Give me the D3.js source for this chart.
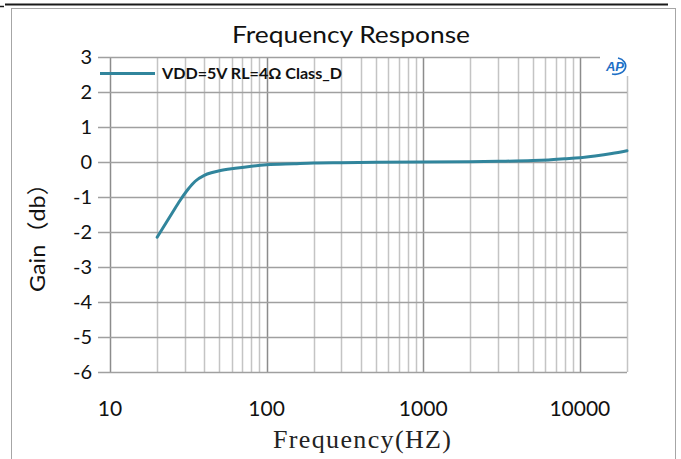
<!DOCTYPE html>
<html>
<head>
<meta charset="utf-8">
<script src="https://cdn.jsdelivr.net/npm/d3@7"></script>
<style>
    body { margin: 0; background: #fff; }
    svg { display: block; }
</style>
</head>
<body>
<div id="chart"></div>
<script>
const freqs = [20, 25, 28, 31.5, 35, 40, 45, 50, 63, 80, 100, 150, 200, 300, 500, 1000, 2000, 3000, 5000, 6300, 8000, 10000, 12500, 16000, 20000];
const gains = [-2.15, -1.45, -1.1, -0.78, -0.55, -0.38, -0.3, -0.25, -0.18, -0.12, -0.08, -0.05, -0.03, -0.02, -0.01, 0, 0.01, 0.02, 0.04, 0.06, 0.09, 0.12, 0.17, 0.24, 0.32];
const yTicks = [3, 2, 1, 0, -1, -2, -3, -4, -5, -6];
const xTickLabels = [10, 100, 1000, 10000];
const seriesName = 'VDD=5V RL=4Ω Class_D';

const width = 681;
const height = 459;
const plot = { left: 110, right: 627, top: 57, bottom: 372 };

const svg = d3.select('#chart')
    .append('svg')
    .attr('width', width)
    .attr('height', height);

const x = d3.scaleLog().domain([10, 20000]).range([plot.left, plot.right]);
const y = d3.scaleLinear().domain([-6, 3]).range([plot.bottom, plot.top]);

// frame
svg.append('rect')
    .attr('x', 11.5).attr('y', 8.5)
    .attr('width', 664).attr('height', 470)
    .attr('fill', 'none')
    .attr('stroke', '#a6a6a6');
svg.append('line')
    .attr('x1', 5).attr('x2', 668).attr('y1', 4.5).attr('y2', 4.5)
    .attr('stroke', '#1a1a1a').attr('stroke-width', 2);
svg.append('line')
    .attr('x1', 0).attr('x2', 4).attr('y1', 6.5).attr('y2', 6.5)
    .attr('stroke', '#1a1a1a').attr('stroke-width', 1.5);

// vertical grid (log minors lighter, decades darker)
const gridGroup = svg.append('g').attr('class', 'grid');
gridGroup.selectAll('line.v')
    .data(x.ticks())
    .enter()
    .append('line')
    .attr('class', 'v')
    .attr('x1', d => Math.round(x(d)) + 0.5)
    .attr('x2', d => Math.round(x(d)) + 0.5)
    .attr('y1', plot.top)
    .attr('y2', plot.bottom)
    .attr('stroke', d => Math.abs(Math.log10(d) % 1) < 1e-9 ? '#8c8c8c' : '#c4c4c4')
    .attr('stroke-width', 1.5);

// horizontal grid + left ticks
gridGroup.selectAll('line.h')
    .data(yTicks)
    .enter()
    .append('line')
    .attr('class', 'h')
    .attr('x1', plot.left - 12)
    .attr('x2', plot.right)
    .attr('y1', d => Math.round(y(d)) + 0.5)
    .attr('y2', d => Math.round(y(d)) + 0.5)
    .attr('stroke', '#a0a0a0')
    .attr('stroke-width', 1.5);

// y tick labels
svg.append('g')
    .selectAll('text')
    .data(yTicks)
    .enter()
    .append('text')
    .attr('x', 92)
    .attr('y', d => y(d))
    .attr('dy', '0.36em')
    .attr('text-anchor', 'end')
    .attr('font-family', 'Lato, "Open Sans", sans-serif')
    .attr('font-size', 20)
    .attr('fill', '#111')
    .text(d => d);

// x tick labels
svg.append('g')
    .selectAll('text')
    .data(xTickLabels)
    .enter()
    .append('text')
    .attr('x', d => x(d))
    .attr('y', 416)
    .attr('text-anchor', 'middle')
    .attr('font-family', 'Lato, "Open Sans", sans-serif')
    .attr('font-size', 21)
    .attr('fill', '#111')
    .text(d => d);

// series
const data = freqs.map((f, i) => ({ f, g: gains[i] }));
const line = d3.line()
    .x(d => x(d.f))
    .y(d => y(d.g))
    .curve(d3.curveMonotoneX);

svg.append('path')
    .datum(data)
    .attr('d', line)
    .attr('fill', 'none')
    .attr('stroke', '#31859c')
    .attr('stroke-width', 3)
    .attr('stroke-linecap', 'round');

// legend
svg.append('line')
    .attr('x1', 100).attr('x2', 155)
    .attr('y1', 73.5).attr('y2', 73.5)
    .attr('stroke', '#31859c')
    .attr('stroke-width', 3);
svg.append('text')
    .attr('x', 162)
    .attr('y', 79)
    .attr('font-family', 'Lato, "Open Sans", sans-serif')
    .attr('font-weight', 'bold')
    .attr('font-size', 15)
    .attr('textLength', 180)
    .attr('lengthAdjust', 'spacingAndGlyphs')
    .attr('fill', '#111')
    .text(seriesName);

// logo in the corner
const logo = svg.append('g').attr('transform', 'translate(616,66)');
logo.append('rect')
    .attr('x', -16).attr('y', -14)
    .attr('width', 32).attr('height', 24)
    .attr('fill', '#fff');
logo.append('text')
    .attr('x', -1)
    .attr('y', 5)
    .attr('text-anchor', 'middle')
    .attr('font-family', 'Liberation Sans, Arial, sans-serif')
    .attr('font-weight', 'bold')
    .attr('font-style', 'italic')
    .attr('font-size', 13)
    .attr('fill', '#1f6fc6')
    .text('AP');
logo.append('path')
    .attr('d', 'M2,-8 A9,7 0 1,1 -4,8')
    .attr('fill', 'none')
    .attr('stroke', '#1f6fc6')
    .attr('stroke-width', 1.6);

// titles
svg.append('text')
    .attr('x', 351)
    .attr('y', 43)
    .attr('text-anchor', 'middle')
    .attr('font-family', 'Lato, "Open Sans", sans-serif')
    .attr('font-size', 23)
    .attr('textLength', 238)
    .attr('lengthAdjust', 'spacingAndGlyphs')
    .attr('fill', '#111')
    .text('Frequency Response');

svg.append('text')
    .attr('transform', 'translate(45,232) rotate(-90)')
    .attr('text-anchor', 'middle')
    .attr('font-family', 'Lato, "Noto Sans CJK SC", sans-serif')
    .attr('font-size', 22)
    .attr('textLength', 120)
    .attr('lengthAdjust', 'spacingAndGlyphs')
    .attr('fill', '#111')
    .text('Gain（db）');

svg.append('text')
    .attr('x', 362)
    .attr('y', 448)
    .attr('text-anchor', 'middle')
    .attr('font-family', '"Liberation Serif", "DejaVu Serif", serif')
    .attr('font-size', 26)
    .attr('textLength', 178)
    .attr('lengthAdjust', 'spacing')
    .attr('fill', '#222')
    .text('Frequency(HZ)');
</script>
</body>
</html>
